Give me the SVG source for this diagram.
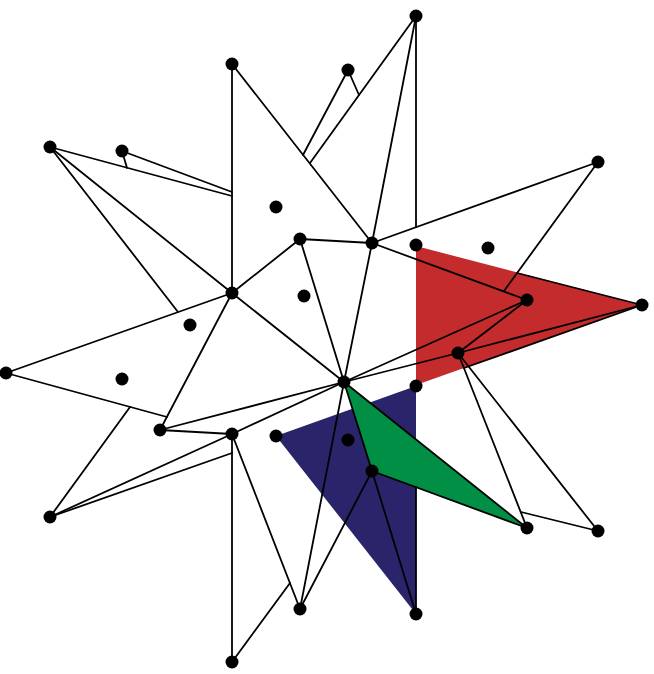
<svg xmlns="http://www.w3.org/2000/svg" width="654" height="674" viewBox="0 0 654 674">
<style>
.e{stroke:#000;stroke-width:1.8;fill:none;stroke-linecap:round}
.n{fill:#000}
</style>
<rect width="654" height="674" fill="#fff"/>
<g id="faces">
<polygon points="416,246 642,305 416,385" fill="#C32B2D"/>
<polygon points="276,436 416,386 416,614" fill="#2A246B"/>
<polygon points="344,382 527,528 372,471" fill="#008F45"/>
</g>
<g id="connectors" class="e">
<line x1="232" y1="64" x2="232" y2="293"/>
<line x1="232" y1="64" x2="372" y2="243"/>
<line x1="50" y1="147" x2="232" y2="196"/>
<line x1="122" y1="151" x2="232" y2="192"/>
<line x1="122" y1="151" x2="127" y2="168"/>
<line x1="50" y1="147" x2="232" y2="293"/>
<line x1="50" y1="147" x2="178" y2="312"/>
<line x1="348" y1="70" x2="303" y2="155"/>
<line x1="348" y1="70" x2="359" y2="95"/>
<line x1="416" y1="16" x2="310" y2="163"/>
<line x1="416" y1="16" x2="372" y2="243"/>
<line x1="416" y1="16" x2="416" y2="227"/>
<line x1="372" y1="243" x2="598" y2="162"/>
<line x1="372" y1="243" x2="527" y2="300"/>
<line x1="598" y1="162" x2="504" y2="291"/>
<line x1="517" y1="273" x2="642" y2="305"/>
<line x1="464" y1="368" x2="642" y2="305"/>
<line x1="458" y1="353" x2="642" y2="305"/>
<line x1="458" y1="353" x2="527" y2="300"/>
<line x1="458" y1="353" x2="344" y2="382"/>
<line x1="527" y1="300" x2="344" y2="382"/>
<line x1="458" y1="353" x2="527" y2="528"/>
<line x1="521" y1="512" x2="598" y2="531"/>
<line x1="458" y1="353" x2="598" y2="531"/>
<line x1="344" y1="382" x2="372" y2="471"/>
<line x1="344" y1="382" x2="527" y2="528"/>
<line x1="372" y1="471" x2="527" y2="528"/>
<line x1="372" y1="471" x2="416" y2="614"/>
<line x1="372" y1="471" x2="300" y2="609"/>
<line x1="344" y1="382" x2="300" y2="609"/>
<line x1="416" y1="487" x2="416" y2="614"/>
<line x1="300" y1="239" x2="372" y2="243"/>
<line x1="300" y1="239" x2="344" y2="382"/>
<line x1="300" y1="239" x2="232" y2="293"/>
<line x1="232" y1="293" x2="344" y2="382"/>
<line x1="372" y1="243" x2="344" y2="382"/>
<line x1="232" y1="293" x2="6" y2="373"/>
<line x1="232" y1="293" x2="160" y2="430"/>
<line x1="6" y1="373" x2="167" y2="417"/>
<line x1="130" y1="407" x2="50" y2="517"/>
<line x1="160" y1="430" x2="344" y2="382"/>
<line x1="160" y1="430" x2="232" y2="434"/>
<line x1="232" y1="434" x2="344" y2="382"/>
<line x1="50" y1="517" x2="232" y2="434"/>
<line x1="50" y1="517" x2="232" y2="453"/>
<line x1="232" y1="434" x2="232" y2="662"/>
<line x1="232" y1="434" x2="300" y2="609"/>
<line x1="232" y1="662" x2="290" y2="583"/>
</g>
<g id="A"><circle class="n" cx="416" cy="16" r="6.5"/></g>
<g id="B"><circle class="n" cx="348" cy="70" r="6.5"/></g>
<g id="C"><circle class="n" cx="232" cy="64" r="6.5"/></g>
<g id="D"><circle class="n" cx="50" cy="147" r="6.5"/></g>
<g id="E"><circle class="n" cx="122" cy="151" r="6.5"/></g>
<g id="F"><circle class="n" cx="598" cy="162" r="6.5"/></g>
<g id="G"><circle class="n" cx="276" cy="207" r="6.5"/></g>
<g id="H"><circle class="n" cx="300" cy="239" r="6.5"/></g>
<g id="I"><circle class="n" cx="372" cy="243" r="6.5"/></g>
<g id="J"><circle class="n" cx="416" cy="245" r="6.5"/></g>
<g id="K"><circle class="n" cx="488" cy="248" r="6.5"/></g>
<g id="L"><circle class="n" cx="232" cy="293" r="6.5"/></g>
<g id="M"><circle class="n" cx="304" cy="296" r="6.5"/></g>
<g id="N"><circle class="n" cx="527" cy="300" r="6.5"/></g>
<g id="O"><circle class="n" cx="642" cy="305" r="6.5"/></g>
<g id="P"><circle class="n" cx="190" cy="325" r="6.5"/></g>
<g id="Q"><circle class="n" cx="458" cy="353" r="6.5"/></g>
<g id="R"><circle class="n" cx="6" cy="373" r="6.5"/></g>
<g id="S"><circle class="n" cx="122" cy="379" r="6.5"/></g>
<g id="T"><circle class="n" cx="344" cy="382" r="6.5"/></g>
<g id="U"><circle class="n" cx="416" cy="386" r="6.5"/></g>
<g id="V"><circle class="n" cx="160" cy="430" r="6.5"/></g>
<g id="W"><circle class="n" cx="232" cy="434" r="6.5"/></g>
<g id="X"><circle class="n" cx="276" cy="436" r="6.5"/></g>
<g id="Y"><circle class="n" cx="348" cy="440" r="6.5"/></g>
<g id="Z"><circle class="n" cx="372" cy="471" r="6.5"/></g>
<g id="AA"><circle class="n" cx="50" cy="517" r="6.5"/></g>
<g id="AB"><circle class="n" cx="527" cy="528" r="6.5"/></g>
<g id="AC"><circle class="n" cx="598" cy="531" r="6.5"/></g>
<g id="AD"><circle class="n" cx="300" cy="609" r="6.5"/></g>
<g id="AE"><circle class="n" cx="416" cy="614" r="6.5"/></g>
<g id="AF"><circle class="n" cx="232" cy="662" r="6.5"/></g>
</svg>
